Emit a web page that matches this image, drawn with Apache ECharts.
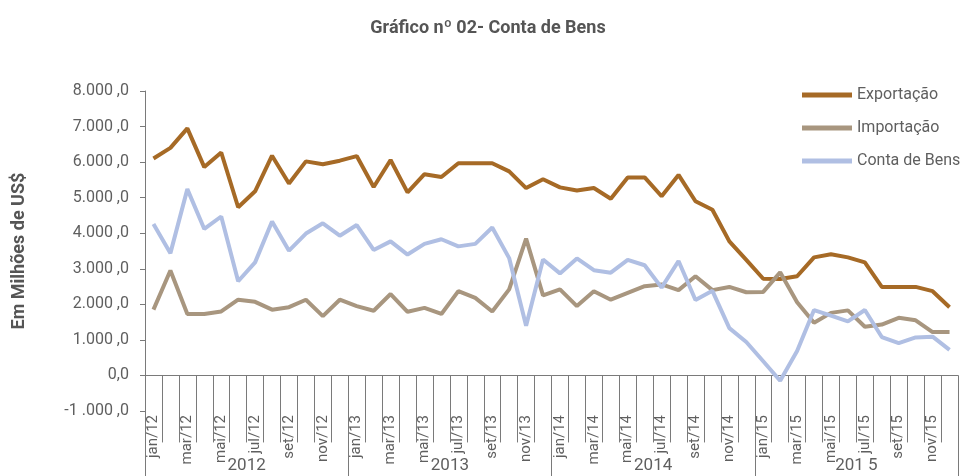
<!DOCTYPE html>
<html>
<head>
<meta charset="utf-8">
<script src="https://cdn.jsdelivr.net/npm/echarts@6/dist/echarts.min.js"></script>
<style>
  html, body { margin: 0; padding: 0; background: #fff; }
  #chart { width: 976px; height: 476px; }
</style>
</head>
<body>
<div id="chart"></div>
<script>
var FONT = "Roboto, 'Liberation Sans', sans-serif";

var months = [
  'jan/12','fev/12','mar/12','abr/12','mai/12','jun/12','jul/12','ago/12','set/12','out/12','nov/12','dez/12',
  'jan/13','fev/13','mar/13','abr/13','mai/13','jun/13','jul/13','ago/13','set/13','out/13','nov/13','dez/13',
  'jan/14','fev/14','mar/14','abr/14','mai/14','jun/14','jul/14','ago/14','set/14','out/14','nov/14','dez/14',
  'jan/15','fev/15','mar/15','abr/15','mai/15','jun/15','jul/15','ago/15','set/15','out/15','nov/15','dez/15'
];
var years = ['2012', '2013', '2014', '201 5'];

var exportacao = [
  6100, 6400, 6950, 5860, 6270, 4730, 5180, 6180, 5400, 6020, 5940, 6040,
  6170, 5300, 6060, 5150, 5660, 5580, 5970, 5970, 5970, 5740, 5270, 5520,
  5290, 5200, 5270, 4970, 5570, 5570, 5040, 5640, 4900, 4660, 3770, 3250,
  2720, 2710, 2790, 3320, 3410, 3320, 3180, 2490, 2490, 2490, 2370, 1920
];
var importacao = [
  1850, 2950, 1730, 1730, 1800, 2130, 2070, 1850, 1920, 2130, 1670, 2130,
  1950, 1820, 2290, 1790, 1900, 1730, 2370, 2180, 1800, 2420, 3850, 2250,
  2420, 1950, 2370, 2130, 2320, 2510, 2560, 2400, 2790, 2400, 2490, 2340,
  2350, 2900, 2060, 1480, 1760, 1830, 1370, 1430, 1620, 1550, 1220, 1220
];
var contaBens = [
  4260, 3440, 5240, 4120, 4470, 2650, 3180, 4330, 3510, 3990, 4280, 3930,
  4230, 3530, 3770, 3400, 3700, 3830, 3630, 3700, 4160, 3300, 1400, 3260,
  2870, 3290, 2960, 2890, 3250, 3100, 2470, 3220, 2120, 2380, 1330, 940,
  400, -150, 690, 1840, 1680, 1520, 1840, 1080, 910, 1070, 1090, 720
];

// y tick labels as printed in the original
var yTicks = {
  '-1000': '-1 .000 ,0', '0': '0,0', '1000': '1.000 ,0', '2000': '2.000 ,0',
  '3000': '3.000 ,0', '4000': '4.000 ,0', '5000': '5.000 ,0', '6000': '6.000 ,0',
  '7000': '7.000 ,0', '8000': '8.000 ,0'
};

var axisGray = '#7a7a7a';
var textGray = '#5f5f5f';

var chart = echarts.init(document.getElementById('chart'));

chart.setOption({
  animation: false,
  textStyle: { fontFamily: FONT },
  title: {
    text: 'Gráfico nº 02- Conta de Bens',
    left: 'center',
    top: 14,
    textStyle: { fontFamily: FONT, fontSize: 18, fontWeight: 'bold', color: '#555555' }
  },
  legend: {
    orient: 'vertical',
    left: 797,
    top: 80,
    itemWidth: 50,
    itemHeight: 5,
    itemGap: 13,
    icon: 'rect',
    textStyle: { fontFamily: FONT, fontSize: 16, color: textGray, lineHeight: 20 },
    data: ['Exportação', 'Importação', 'Conta de Bens']
  },
  grid: { left: 145, right: 18, top: 91, bottom: 65, containLabel: false },
  xAxis: [
    {
      type: 'category',
      data: months,
      position: 'bottom',
      boundaryGap: true,
      axisLine: { show: true, onZero: true, lineStyle: { color: axisGray, width: 1 } },
      axisTick: { show: true, interval: 0, length: 67, lineStyle: { color: axisGray, width: 1 } },
      axisLabel: {
        interval: 1, rotate: 90, margin: 4,
        fontFamily: FONT, fontSize: 15, color: textGray
      }
    },
    {
      type: 'category',
      data: years,
      position: 'bottom',
      boundaryGap: true,
      axisLine: { show: false, onZero: false },
      axisTick: { show: true, interval: 0, length: 65, lineStyle: { color: axisGray, width: 1 } },
      axisLabel: { interval: 0, margin: 46, fontFamily: FONT, fontSize: 17, color: textGray }
    }
  ],
  yAxis: {
    type: 'value',
    min: -1000,
    max: 8000,
    interval: 1000,
    name: 'Em Milhões de US$',
    nameLocation: 'middle',
    nameRotate: 90,
    nameGap: 117,
    nameTextStyle: { fontFamily: FONT, fontSize: 18, fontWeight: 'bold', color: '#555555' },
    splitLine: { show: false },
    axisLine: { show: true, lineStyle: { color: axisGray } },
    axisTick: { show: true, length: 5, lineStyle: { color: axisGray } },
    axisLabel: {
      margin: 16, fontFamily: FONT, fontSize: 16, color: textGray,
      formatter: function (v) { return yTicks[String(v)]; }
    }
  },
  series: [
    {
      name: 'Exportação', type: 'line', data: exportacao, symbol: 'none',
      lineStyle: { width: 4, color: '#a66a26' }, itemStyle: { color: '#a66a26' }
    },
    {
      name: 'Importação', type: 'line', data: importacao, symbol: 'none',
      lineStyle: { width: 4, color: '#a8967f' }, itemStyle: { color: '#a8967f' }
    },
    {
      name: 'Conta de Bens', type: 'line', data: contaBens, symbol: 'none',
      lineStyle: { width: 4, color: '#b0bfe3' }, itemStyle: { color: '#b0bfe3' }
    }
  ]
});
</script>
</body>
</html>
